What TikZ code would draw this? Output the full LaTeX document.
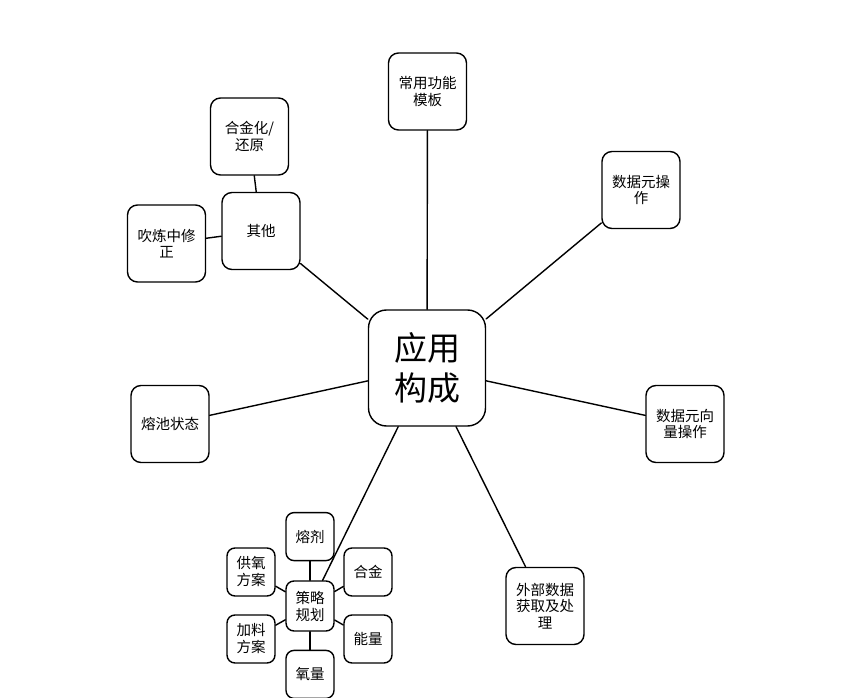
\documentclass[tikz,border=0pt]{standalone}
\usepackage{fontspec}
\newfontfamily\cjk{Noto Sans CJK SC}
\usetikzlibrary{positioning}

\begin{document}
\begin{tikzpicture}[line cap=round,line join=round,x=1pt,y=-1pt,
  box/.style={draw,line width=1.4pt,rounded corners=10pt,inner sep=0pt,
    minimum width=78pt,minimum height=77pt,align=center,
    font=\cjk\fontsize{14.5}{16.5}\selectfont},
  hub/.style={box,rounded corners=18pt,minimum width=117pt,minimum height=116pt,
    font=\cjk\fontsize{33}{40}\selectfont},
  leaf/.style={box,rounded corners=8pt,minimum width=48pt,minimum height=48pt,
    font=\cjk\fontsize{14.5}{17}\selectfont},
  link/.style={line width=1.4pt}]
\useasboundingbox (0,0) rectangle (855,698);
\node [hub] (app) at (427,368) {应用\\构成};
\node [box] (tmpl) at (427.5,91.5) {常用功能\\模板};
\node [box] (dop) at (641,190) {数据元操\\作};
\node [box] (vec) at (685,424) {数据元向\\量操作};
\node [box] (ext) at (545,606) {外部数据\\获取及处\\理};
\node [box] (pool) at (170,424) {熔池状态};
\node [box] (other) at (261,231) {其他};
\node [box] (alloy) at (249.5,136.5) {合金化/\\还原};
\node [box] (blow) at (166.5,243.5) {吹炼中修\\正};
\node [leaf,minimum height=50pt] (plan) at (310,606) {策略\\规划};
\node [leaf,above=19pt of plan] (flux) {熔剂};
\node [leaf,below=18pt of plan] (oxy) {氧量};
\node [leaf] (alg) at (368,572) {合金};
\node [leaf] (energy) at (368,639) {能量};
\node [leaf] (supply) at (251,572) {供氧\\方案};
\node [leaf] (feed) at (251,639) {加料\\方案};
\foreach \n in {tmpl,dop,vec,ext,pool,other,plan}
  \draw [link] (app) -- (\n);
\foreach \n in {alloy,blow}
  \draw [link] (other) -- (\n);
\foreach \n in {flux,oxy,alg,energy,supply,feed}
  \draw [link] (plan) -- (\n);
\end{tikzpicture}
\end{document}
